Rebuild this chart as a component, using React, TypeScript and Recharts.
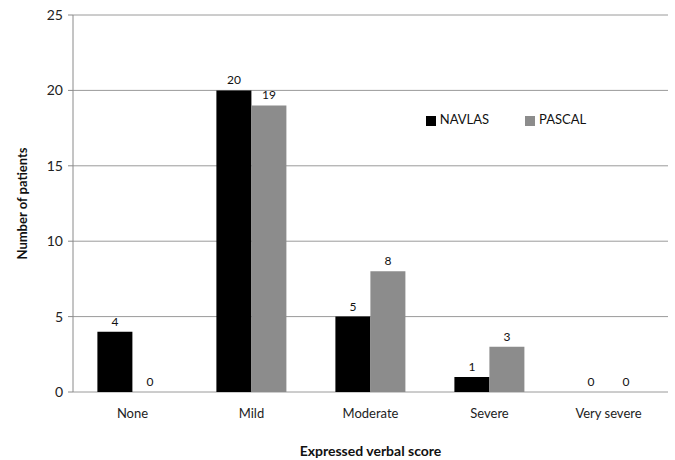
import { BarChart, Bar, XAxis, YAxis, CartesianGrid, Legend, LabelList } from 'recharts';

const categories = ['None', 'Mild', 'Moderate', 'Severe', 'Very severe'];
const navlas = [4, 20, 5, 1, 0];
const pascal = [0, 19, 8, 3, 0];
const yTicks = [0, 5, 10, 15, 20, 25];
const edgeTicks = [0, 1, 2, 3, 4, 5];

const data = categories.map((name, i) => ({
  name,
  NAVLAS: navlas[i],
  PASCAL: pascal[i],
}));

const font = 'Lato, "Open Sans", sans-serif';

export default function App() {
  return (
    <div style={{ position: 'absolute', left: 0, top: 0, fontFamily: font }}>
      <BarChart
        width={675}
        height={460}
        data={data}
        margin={{ top: 15, right: 7, left: 13, bottom: 38 }}
        barCategoryGap="20.5%"
        barGap={0}
      >
        <CartesianGrid vertical={false} stroke="#9a9a9a" />
        <XAxis
          xAxisId="edges"
          type="number"
          domain={[0, 5]}
          ticks={edgeTicks}
          tick={false}
          tickSize={5}
          height={0}
          axisLine={{ stroke: '#8a8a8a' }}
          tickLine={{ stroke: '#8a8a8a' }}
        />
        <XAxis
          dataKey="name"
          axisLine={false}
          tickLine={false}
          height={30}
          tick={{ fill: '#222', fontSize: 13, fontFamily: font }}
          tickMargin={11}
          label={{ value: 'Expressed verbal score', position: 'insideBottom', offset: -34, fill: '#111', fontSize: 14, fontWeight: 700, fontFamily: font }}
        />
        <YAxis
          domain={[0, 25]}
          ticks={yTicks}
          width={60}
          axisLine={{ stroke: '#8a8a8a' }}
          tickLine={{ stroke: '#8a8a8a' }}
          tickSize={5}
          tickMargin={5}
          tick={{ fill: '#222', fontSize: 14, fontFamily: font }}
          label={{ value: 'Number of patients', angle: -90, position: 'insideLeft', offset: 9, fill: '#111', fontSize: 13, fontWeight: 700, fontFamily: font, style: { textAnchor: 'middle' } }}
        />
        <YAxis
          yAxisId="right"
          orientation="right"
          width={0}
          domain={[0, 25]}
          tick={false}
          tickLine={false}
          axisLine={{ stroke: '#555' }}
        />
        <Legend
          layout="horizontal"
          verticalAlign="middle"
          align="center"
          iconType="square"
          iconSize={10}
          wrapperStyle={{ position: 'absolute', top: 111, left: 384, width: 280, fontSize: 13, fontFamily: font }}
          formatter={(value) => <span style={{ color: '#111', marginRight: 26 }}>{value}</span>}
        />
        <Bar dataKey="NAVLAS" fill="#000000" minPointSize={0.01} isAnimationActive={false}>
          <LabelList dataKey="NAVLAS" position="top" offset={6} fill="#111" fontSize={12} fontFamily={font} />
        </Bar>
        <Bar dataKey="PASCAL" fill="#8c8c8c" minPointSize={0.01} isAnimationActive={false}>
          <LabelList dataKey="PASCAL" position="top" offset={6} fill="#111" fontSize={12} fontFamily={font} />
        </Bar>
      </BarChart>
    </div>
  );
}
